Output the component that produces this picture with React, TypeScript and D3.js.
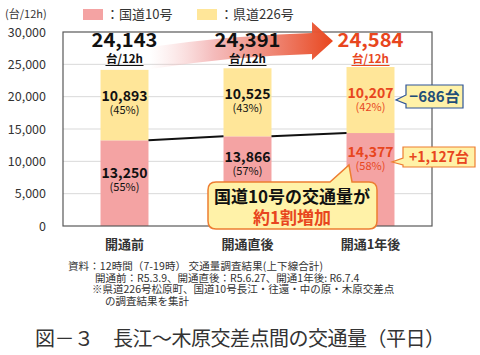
import React from "react";
import * as d3 from "d3";

const categories = ["開通前", "開通直後", "開通1年後"];
const route10 = [13250, 13866, 14377];
const pref226 = [10893, 10525, 10207];
const totals = [24143, 24391, 24584];
const share10 = ["(55%)", "(57%)", "(58%)"];
const share226 = ["(45%)", "(43%)", "(42%)"];
const yTicks = [0, 5000, 10000, 15000, 20000, 25000, 30000];
const legendLabels = ["：国道10号", "：県道226号"];
const unitLabel = "(台/12h)";
const totalUnit = "台/12h";
const diff226 = "−686台";
const diff10 = "+1,127台";
const calloutLines = ["国道10号の交通量が", "約1割増加"];
const notes = [
  "資料：12時間（7-19時） 交通量調査結果(上下線合計)",
  "開通前：R5.3.9、開通直後：R5.6.27、開通1年後: R6.7.4",
  "※県道226号松原町、国道10号長江・往還・中の原・木原交差点",
  "の調査結果を集計",
];
const title = "図－３　長江～木原交差点間の交通量（平日）";

const FONT = "'Noto Sans CJK JP', 'Noto Sans', sans-serif";
const RED = "#F4A3A3";
const YEL = "#FFE699";
const ACC = "#E8461E";

export default function App() {
  const W = 480, H = 355;
  const x = d3.scaleBand<string>().domain(categories).range([63, 432]).paddingInner(0.61).paddingOuter(0.305);
  const y = d3.scaleLinear().domain([0, 30000]).range([226, 32]);
  const bw = x.bandwidth();
  const fmt = d3.format(",");
  const redOffset = [38, 26, 24];

  const linePts: [number, number][] = [];
  categories.forEach((c, i) => {
    if (i < categories.length - 1) {
      linePts.push([x(c)! + bw, y(route10[i])]);
      linePts.push([x(categories[i + 1])!, y(route10[i + 1])]);
    }
  });

  return (
    <svg width={W} height={H} style={{ position: "absolute", left: 0, top: 0, fontFamily: FONT }}>
      <defs>
        <linearGradient id="arrowGrad" x1="150" y1="0" x2="333" y2="0" gradientUnits="userSpaceOnUse">
          <stop offset="0" stopColor="#F7C4C4" stopOpacity="0" />
          <stop offset="0.35" stopColor="#F2AAAA" stopOpacity="0.8" />
          <stop offset="1" stopColor={ACC} />
        </linearGradient>
      </defs>
      <rect width={W} height={H} fill="#fff" />
      {/* unit & legend */}
      <text x={5} y={18} fontSize={11} fill="#333">{unitLabel}</text>
      <rect x={83} y={9} width={20} height={11} fill={RED} />
      <text x={106} y={19} fontSize={13} fill="#333">{legendLabels[0]}</text>
      <rect x={197} y={9} width={20} height={11} fill={YEL} />
      <text x={220} y={19} fontSize={13} fill="#333">{legendLabels[1]}</text>

      {/* plot area */}
      <rect x={63} y={32} width={369} height={194} fill="#fff" />
      {yTicks.filter((t) => t > 0 && t < 30000).map((t) => (
        <line key={t} x1={63} x2={432} y1={y(t)} y2={y(t)} stroke="#D9D9D9" strokeWidth={1} />
      ))}
      {yTicks.map((t) => (
        <text key={t} x={46} y={y(t) + 4.5} fontSize={12.5} textAnchor="end" fill="#333">{fmt(t)}</text>
      ))}

      {/* bars */}
      {categories.map((c, i) => (
        <g key={c}>
          <rect x={x(c)} y={y(route10[i])} width={bw} height={y(0) - y(route10[i])} fill={RED} />
          <rect x={x(c)} y={y(totals[i])} width={bw} height={y(route10[i]) - y(totals[i])} fill={YEL} />
        </g>
      ))}
      <path d={d3.line()(linePts.slice(0, 2))!} stroke="#111" strokeWidth={2} fill="none" />
      <path d={d3.line()(linePts.slice(2, 4))!} stroke="#111" strokeWidth={2} fill="none" />

      <rect x={63} y={32} width={369} height={194} fill="none" stroke="#595959" strokeWidth={1.2} />

      {/* arrow */}
      <path
        d="M150,47 Q235,35 312,33 L312,22 L333,41 L312,60 L312,54 Q235,56 150,69 Z"
        fill="url(#arrowGrad)"
      />

      {/* totals */}
      {categories.map((c, i) => {
        const cx = x(c)! + bw / 2;
        const col = i === 2 ? ACC : "#111";
        return (
          <g key={"t" + c} fill={col}>
            <text x={cx - 33} y={47} fontSize={19} fontWeight="bold" textLength={66} lengthAdjust="spacingAndGlyphs">{fmt(totals[i])}</text>
            <text x={cx} y={63} fontSize={11.5} fontWeight="bold" textAnchor="middle">{totalUnit}</text>
            <line x1={cx - 19} x2={cx + 19} y1={65.5} y2={65.5} stroke={col} strokeWidth={1} />
          </g>
        );
      })}

      {/* segment labels */}
      {categories.map((c, i) => {
        const cx = x(c)! + bw / 2;
        const col = i === 2 ? ACC : "#111";
        const yy = y(totals[i]) + 31;
        const ry = y(route10[i]) + redOffset[i];
        return (
          <g key={"s" + c} fill={col} textAnchor="middle">
            <text x={cx} y={yy} fontSize={14} fontWeight="bold">{fmt(pref226[i])}</text>
            <text x={cx} y={yy + 13} fontSize={11}>{share226[i]}</text>
            <text x={cx} y={ry} fontSize={14} fontWeight="bold">{fmt(route10[i])}</text>
            <text x={cx} y={ry + 13} fontSize={11}>{share10[i]}</text>
          </g>
        );
      })}

      {/* small callouts */}
      <path
        d="M406,85 L463,85 L463,108 L406,108 L406,104 L396,100 L406,95 Z"
        fill="#FFF2A8" stroke="#2F5597" strokeWidth={1.2}
      />
      <text x={434.5} y={102} fontSize={15} fontWeight="bold" fill="#1F4E79" textAnchor="middle">{diff226}</text>
      <path
        d="M403,147 L475,147 L475,167 L403,167 L403,165 L392,162 L403,158 Z"
        fill="#FFF2A8" stroke="#ED7D31" strokeWidth={1.2}
      />
      <text x={439} y={162} fontSize={14} fontWeight="bold" fill={ACC} textAnchor="middle">{diff10}</text>

      {/* big callout */}
      <path
        d="M216,182 L330,182 L349,165 L352,182 L369,182 Q377,182 377,190 L377,221 Q377,229 369,229 L216,229 Q208,229 208,221 L208,190 Q208,182 216,182 Z"
        fill="#FFF2A8" stroke="#ED7D31" strokeWidth={1.5}
      />
      <text x={292} y={203} fontSize={17} fontWeight="bold" fill="#111" textAnchor="middle">{calloutLines[0]}</text>
      <text x={292} y={224} fontSize={17} fontWeight="bold" fill={ACC} textAnchor="middle">{calloutLines[1]}</text>

      {/* x labels */}
      {categories.map((c) => (
        <text key={"x" + c} x={x(c)! + bw / 2} y={249} fontSize={13} fontWeight="bold" fill="#333" textAnchor="middle">{c}</text>
      ))}

      {/* notes */}
      <text x={68} y={270} fontSize={10.5} fill="#333" textLength={255} lengthAdjust="spacing">{notes[0]}</text>
      <text x={95} y={281.5} fontSize={10.5} fill="#333">{notes[1]}</text>
      <text x={92} y={293} fontSize={10.5} fill="#333">{notes[2]}</text>
      <text x={105} y={304.5} fontSize={10.5} fill="#333">{notes[3]}</text>

      <text x={35} y={346} fontSize={20} fill="#333" textLength={410} lengthAdjust="spacing">{title}</text>
    </svg>
  );
}
